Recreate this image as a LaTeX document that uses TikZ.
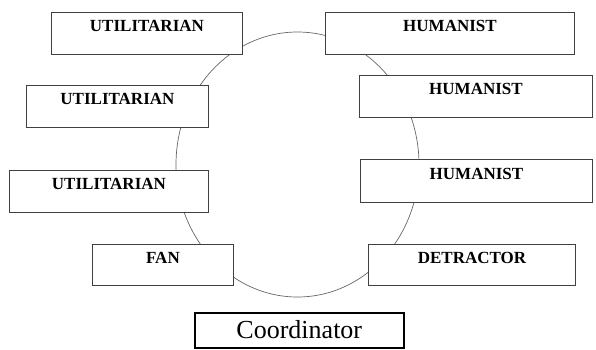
\documentclass[tikz,border=0pt]{standalone}
\usepackage{fontspec}
\setmainfont{Liberation Serif}
\newcommand\rolefont{\fontsize{17}{17}\selectfont\bfseries}
\newcommand\leadfont{\fontsize{26}{26}\selectfont}
\begin{document}
\begin{tikzpicture}[x=1pt,y=-1pt,
  role/.style={draw=black!75, line width=0.9pt, fill=white, inner sep=0pt, anchor=north west,
    text height=19pt, text depth=23pt, font=\rolefont},
  lead/.style={draw=black, line width=1.6pt, fill=white, inner sep=0pt, anchor=north west,
    minimum width=209pt, text height=26pt, text depth=9pt, font=\leadfont}]
  \useasboundingbox (0,0) rectangle (596,349);
  % the circle behind the roles
  \draw[black!60, line width=0.7pt] (297.5,164.5) ellipse (121.5 and 132.5);
  % left side
  \node[role, minimum width=191pt] (util1) at (51,12) {UTILITARIAN};
  \node[role, minimum width=182pt] (util2) at (26,85) {UTILITARIAN};
  \node[role, minimum width=199pt] (util3) at (9,170) {UTILITARIAN};
  \node[role, minimum width=141pt, text depth=22pt] (fan) at (92,244) {FAN};
  % right side
  \node[role, minimum width=249pt] (hum1) at (325,12) {HUMANIST};
  \node[role, minimum width=233pt] (hum2) at (359,75) {HUMANIST};
  \node[role, minimum width=232pt, text height=20pt] (hum3) at (360,159) {HUMANIST};
  \node[role, minimum width=207pt, text depth=22pt] (detr) at (368,244) {DETRACTOR};
  % bottom
  \node[lead] (coord) at (194,312) {Coordinator};
\end{tikzpicture}
\end{document}
